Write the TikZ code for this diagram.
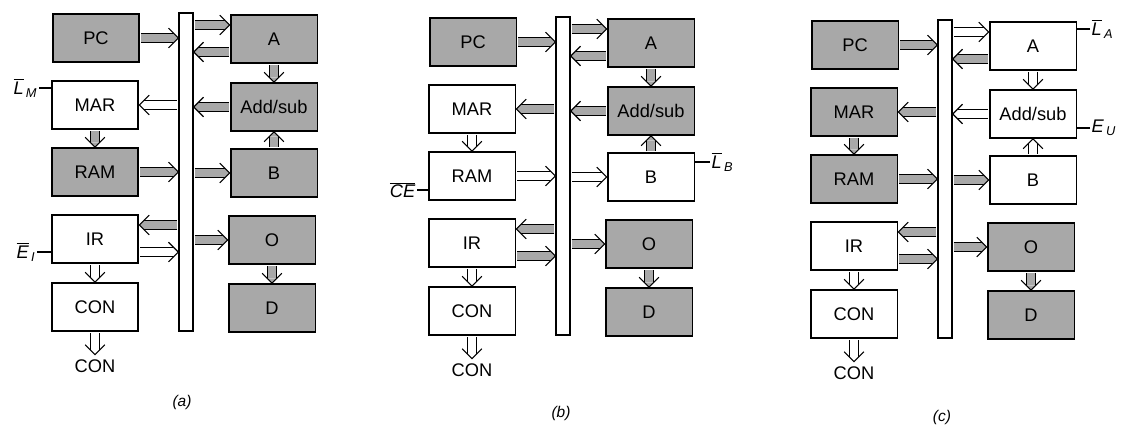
\documentclass[tikz,border=0pt]{standalone}
\usepackage{amsmath}
\usepackage{fontspec}
\setmainfont{Liberation Sans}
\usetikzlibrary{positioning,decorations.markings}
\definecolor{stipple}{gray}{0.66}
\tikzset{
  reg/.style={draw, line width=1.3pt, minimum width=2.17cm, minimum height=1.2cm,
    inner sep=0pt, font=\fontsize{13}{15}\selectfont},
  regg/.style={reg, fill=stipple},
  regw/.style={reg, fill=white},
  bus/.style={draw, line width=1pt, fill=white, minimum width=.35cm,
    minimum height=7.95cm, inner sep=0pt},
  wide/.style={
    preaction={draw, line width=6.6pt, shorten <=.6pt, shorten >=3.3pt},
    preaction={draw=#1, line width=5pt, shorten <=.6pt, shorten >=3.3pt},
    postaction={decorate, decoration={markings, mark=at position 1 with {
      \fill[#1] (-3.4pt,-3.3pt) -- (0,0) -- (-3.4pt,3.3pt) -- cycle;
      \draw[line width=.8pt] (-7pt,-7pt) -- (0,0) -- (-7pt,7pt);}}}},
  widg/.style={wide=stipple},
  widw/.style={wide=white},
  sig/.style={inner sep=1pt, font=\fontsize{13}{15}\selectfont},
  sigline/.style={line width=.8pt},
  outlbl/.style={font=\fontsize{13}{15}\selectfont},
  caption/.style={font=\fontsize{11}{13}\selectfont\itshape}
}
\begin{document}
\begin{tikzpicture}[x=0.025cm,y=-0.025cm]
  \useasboundingbox (0,0) rectangle (1124,427);
  % (a)
  \begin{scope}
    \node[bus] (aBus) at (186,172) {};
    \node[regg] (aPC) at (96,38) {PC};
    \node[regw] (aMAR) at (95,105) {MAR};
    \node[regg] (aRAM) at (95,172) {RAM};
    \node[regw] (aIR) at (95,239) {IR};
    \node[regw] (aCON) at (95,307) {CON};
    \node[regg] (aA) at (274,39) {A};
    \node[regg] (aAdd) at (274,107) {Add/sub};
    \node[regg] (aB) at (274,173) {B};
    \node[regg] (aO) at (272,240) {O};
    \node[regg] (aD) at (272,308) {D};
    \node[outlbl] (aOut) at (95,366) {CON};
    \coordinate (aAin) at ([yshift=.35cm]aA.west);
    \coordinate (aAout) at ([yshift=-.325cm]aA.west);
    \coordinate (aIRin) at ([yshift=.35cm]aIR.east);
    \coordinate (aIRout) at ([yshift=-.325cm]aIR.east);
    \path[widg] (aPC.east) -- (aPC.east -| aBus.west);
    \path[widg] (aAin -| aBus.east) -- (aAin);
    \path[widg] (aAout) -- (aAout -| aBus.east);
    \path[widg] (aA.south) -- (aAdd.north);
    \path[widg] (aAdd.west) -- (aAdd.west -| aBus.east);
    \path[widw] (aMAR.east -| aBus.west) -- (aMAR.east);
    \path[widg] (aMAR.south) -- (aRAM.north);
    \path[widg] (aRAM.east) -- (aRAM.east -| aBus.west);
    \path[widg] (aB.west -| aBus.east) -- (aB.west);
    \path[widg] (aB.north) -- (aAdd.south);
    \path[widg] (aIRin -| aBus.west) -- (aIRin);
    \path[widw] (aIRout) -- (aIRout -| aBus.west);
    \path[widg] (aO.west -| aBus.east) -- (aO.west);
    \path[widg] (aO.south) -- (aD.north);
    \path[widw] (aIR.south) -- (aCON.north);
    \path[widw] (aCON.south) -- (aOut.north);
    % control lines
    \coordinate (aLMend) at (39,88);
    \node[sig, left=0pt of aLMend] (aLM) {$\overline{\text{\itshape L}}_{\,\text{\itshape M}}$};
    \draw[sigline] (aLMend) -- (aLMend -| aMAR.west);
    \coordinate (aEIend) at (37,252);
    \node[sig, left=0pt of aEIend] (aEI) {$\overline{\text{\itshape E}}_{\,\text{\itshape I}}$};
    \draw[sigline] (aEIend) -- (aEIend -| aIR.west);
  \end{scope}
  % (b)
  \begin{scope}[shift={(377,4)}]
    \node[bus] (bBus) at (186,172) {};
    \node[regg] (bPC) at (96,38) {PC};
    \node[regw] (bMAR) at (95,105) {MAR};
    \node[regw] (bRAM) at (95,172) {RAM};
    \node[regw] (bIR) at (95,239) {IR};
    \node[regw] (bCON) at (95,307) {CON};
    \node[regg] (bA) at (274,39) {A};
    \node[regg] (bAdd) at (274,107) {Add/sub};
    \node[regw] (bB) at (274,173) {B};
    \node[regg] (bO) at (272,240) {O};
    \node[regg] (bD) at (272,308) {D};
    \node[outlbl] (bOut) at (95,366) {CON};
    \coordinate (bAin) at ([yshift=.35cm]bA.west);
    \coordinate (bAout) at ([yshift=-.325cm]bA.west);
    \coordinate (bIRin) at ([yshift=.35cm]bIR.east);
    \coordinate (bIRout) at ([yshift=-.325cm]bIR.east);
    \path[widg] (bPC.east) -- (bPC.east -| bBus.west);
    \path[widg] (bAin -| bBus.east) -- (bAin);
    \path[widg] (bAout) -- (bAout -| bBus.east);
    \path[widg] (bA.south) -- (bAdd.north);
    \path[widg] (bAdd.west) -- (bAdd.west -| bBus.east);
    \path[widg] (bMAR.east -| bBus.west) -- (bMAR.east);
    \path[widw] (bMAR.south) -- (bRAM.north);
    \path[widw] (bRAM.east) -- (bRAM.east -| bBus.west);
    \path[widw] (bB.west -| bBus.east) -- (bB.west);
    \path[widg] (bB.north) -- (bAdd.south);
    \path[widg] (bIRin -| bBus.west) -- (bIRin);
    \path[widg] (bIRout) -- (bIRout -| bBus.west);
    \path[widg] (bO.west -| bBus.east) -- (bO.west);
    \path[widg] (bO.south) -- (bD.north);
    \path[widw] (bIR.south) -- (bCON.north);
    \path[widw] (bCON.south) -- (bOut.north);
    % control lines
    \coordinate (bCEend) at (40,186);
    \node[sig, left=0pt of bCEend] (bCE) {$\overline{\text{\itshape CE}}$};
    \draw[sigline] (bCEend) -- (bCEend -| bRAM.west);
    \coordinate (bLBend) at (333,158);
    \node[sig, right=0pt of bLBend] (bLB) {$\overline{\text{\itshape L}}_{\,\text{\itshape B}}$};
    \draw[sigline] (bLBend) -- (bLBend -| bB.east);
  \end{scope}
  % (c)
  \begin{scope}[shift={(759,7)}]
    \node[bus] (cBus) at (186,172) {};
    \node[regg] (cPC) at (96,38) {PC};
    \node[regg] (cMAR) at (95,105) {MAR};
    \node[regg] (cRAM) at (95,172) {RAM};
    \node[regw] (cIR) at (95,239) {IR};
    \node[regw] (cCON) at (95,307) {CON};
    \node[regw] (cA) at (274,39) {A};
    \node[regw] (cAdd) at (274,107) {Add/sub};
    \node[regw] (cB) at (274,173) {B};
    \node[regg] (cO) at (272,240) {O};
    \node[regg] (cD) at (272,308) {D};
    \node[outlbl] (cOut) at (95,366) {CON};
    \coordinate (cAin) at ([yshift=.35cm]cA.west);
    \coordinate (cAout) at ([yshift=-.325cm]cA.west);
    \coordinate (cIRin) at ([yshift=.35cm]cIR.east);
    \coordinate (cIRout) at ([yshift=-.325cm]cIR.east);
    \path[widg] (cPC.east) -- (cPC.east -| cBus.west);
    \path[widw] (cAin -| cBus.east) -- (cAin);
    \path[widg] (cAout) -- (cAout -| cBus.east);
    \path[widw] (cA.south) -- (cAdd.north);
    \path[widw] (cAdd.west) -- (cAdd.west -| cBus.east);
    \path[widg] (cMAR.east -| cBus.west) -- (cMAR.east);
    \path[widg] (cMAR.south) -- (cRAM.north);
    \path[widg] (cRAM.east) -- (cRAM.east -| cBus.west);
    \path[widg] (cB.west -| cBus.east) -- (cB.west);
    \path[widw] (cB.north) -- (cAdd.south);
    \path[widg] (cIRin -| cBus.west) -- (cIRin);
    \path[widg] (cIRout) -- (cIRout -| cBus.west);
    \path[widg] (cO.west -| cBus.east) -- (cO.west);
    \path[widg] (cO.south) -- (cD.north);
    \path[widw] (cIR.south) -- (cCON.north);
    \path[widw] (cCON.south) -- (cOut.north);
    % control lines
    \coordinate (cLAend) at (331,22);
    \node[sig, right=0pt of cLAend] (cLA) {$\overline{\text{\itshape L}}_{\,\text{\itshape A}}$};
    \draw[sigline] (cLAend) -- (cLAend -| cA.east);
    \coordinate (cEUend) at (331,121);
    \node[sig, right=0pt of cEUend] (cEU) {$\text{\itshape E}_{\,\text{\itshape U}}$};
    \draw[sigline] (cEUend) -- (cEUend -| cAdd.east);
  \end{scope}
  % captions
  \node[caption] (capa) at (182,402) {(a)};
  \node[caption] (capb) at (561,413) {(b)};
  \node[caption] (capc) at (942,417) {(c)};
\end{tikzpicture}
\end{document}
